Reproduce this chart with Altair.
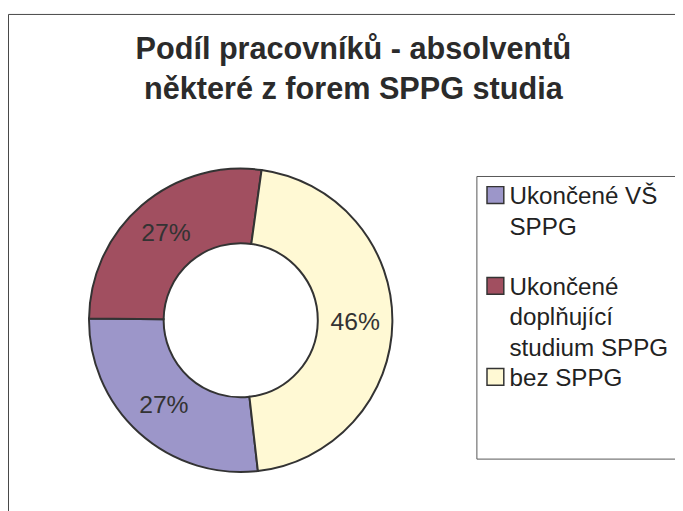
import json
import math
import altair as alt
import pandas as pd

# ---- data ----
categories = ["Ukončené VŠ SPPG", "Ukončené doplňující studium SPPG", "bez SPPG"]
values = [27, 27, 46]
colors = ["#9c96c9", "#a14f60", "#fff9d4"]
legend_lines = [
    ["Ukončené VŠ", "SPPG", " "],
    ["Ukončené", "doplňující", "studium SPPG      "],
    ["bez SPPG", " ", " "],
]
title_lines = ["Podíl pracovníků - absolventů", "některé z forem SPPG studia"]

df = pd.DataFrame({
    "kategorie": categories,
    "podil": values,
    "poradi": list(range(len(categories))),
})
df["popisek"] = df["podil"].astype(str) + "%"

start = math.radians(173.5)
theta_scale = alt.Scale(domain=[0, sum(values)], range=[start, start + 2 * math.pi])

label_expr = ""
for cat, lines in zip(categories, legend_lines):
    label_expr += f"datum.label == {json.dumps(cat, ensure_ascii=False)} ? {json.dumps(lines, ensure_ascii=False)} : "
label_expr += "datum.label"

FONT = "Liberation Sans"
cx, cy = 235.5, 310

base = alt.Chart(df).encode(
    theta=alt.Theta("podil:Q", stack=True, scale=theta_scale),
    order=alt.Order("poradi:Q"),
    x=alt.value(cx),
    y=alt.value(cy),
)

arcs = base.mark_arc(innerRadius=78, outerRadius=153.5, stroke="#333333", strokeWidth=2).encode(
    color=alt.Color(
        "kategorie:N",
        scale=alt.Scale(domain=categories, range=colors),
        sort=categories,
        legend=alt.Legend(
            title=None,
            orient="none",
            legendX=474,
            legendY=164,
            direction="vertical",
            labelExpr=label_expr,
            labelFont=FONT,
            labelFontSize=24.5,
            labelColor="#222222",
            labelBaseline="top",
            labelLimit=500,
            labelOffset=2,
            symbolType="square",
            symbolSize=289,
            symbolStrokeColor="#333333",
            symbolStrokeWidth=1.5,
            symbolOpacity=1,
            strokeColor="#555555",
            fillColor="white",
            padding=7,
            rowPadding=4,
        ),
    )
)

labels = base.mark_text(radius=116, fontSize=25, font=FONT, color="#333333").encode(
    text="popisek:N",
    detail="kategorie:N",
)

chart = (
    alt.layer(arcs, labels)
    .properties(
        width=685,
        height=515,
        autosize=alt.AutoSizeParams(type="none"),
        padding={"left": 0, "top": 3, "right": -10, "bottom": -15},
        title=alt.TitleParams(
            text=title_lines,
            font=FONT,
            fontSize=31,
            fontWeight="bold",
            color="#2b2b2b",
            anchor="middle",
            lineHeight=40,
            baseline="top",
            offset=-93,
            dx=7,
            frame="group",
        ),
    )
    .configure(style={"guide-label": {"lineHeight": 31, "dy": -10}})
    .configure_view(stroke="#444444", strokeWidth=1)
)

chart.save("out.html", embed_options={"renderer": "svg", "actions": False})
